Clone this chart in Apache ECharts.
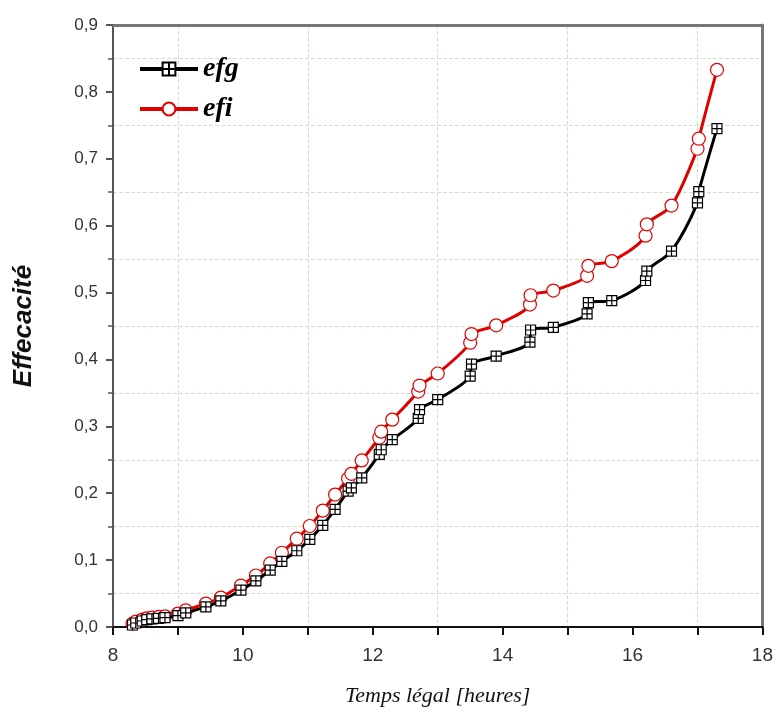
<!DOCTYPE html>
<html>
<head>
<meta charset="utf-8">
<script src="https://cdn.jsdelivr.net/npm/echarts@6/dist/echarts.min.js"></script>
<style>
  html, body { margin: 0; padding: 0; background: #fff; }
  #chart { width: 776px; height: 722px; }
</style>
</head>
<body>
<div id="chart"></div>
<script>
// heures (temps légal), same instants for both series
const temps = [8.3, 8.35, 8.45, 8.52, 8.6, 8.7, 8.8, 9.0, 9.12, 9.43, 9.66, 9.97, 10.2, 10.42, 10.6,
  10.83, 11.03, 11.23, 11.42, 11.62, 11.67, 11.83, 12.1, 12.13, 12.3, 12.7, 12.72, 13.0, 13.5, 13.52,
  13.9, 14.42, 14.43, 14.78, 15.3, 15.32, 15.68, 16.2, 16.22, 16.6, 17.0, 17.02, 17.3]

const efg = [0.003, 0.006, 0.009, 0.011, 0.012, 0.013, 0.014, 0.017, 0.021, 0.03, 0.039, 0.055, 0.069, 0.085, 0.098,
  0.114, 0.131, 0.152, 0.176, 0.203, 0.208, 0.223, 0.258, 0.265, 0.28, 0.312, 0.325, 0.34, 0.375, 0.393,
  0.405, 0.426, 0.444, 0.448, 0.468, 0.485, 0.488, 0.518, 0.532, 0.562, 0.634, 0.651, 0.745]

const efi = [0.005, 0.008, 0.011, 0.013, 0.014, 0.015, 0.016, 0.02, 0.025, 0.035, 0.044, 0.062, 0.077, 0.095, 0.111,
  0.132, 0.151, 0.174, 0.198, 0.222, 0.229, 0.249, 0.283, 0.292, 0.31, 0.352, 0.361, 0.379, 0.425, 0.438,
  0.451, 0.482, 0.496, 0.503, 0.525, 0.54, 0.547, 0.585, 0.602, 0.63, 0.715, 0.73, 0.833]

const chart = echarts.init(document.getElementById('chart'))

const pairs = ys => temps.map((t, i) => [t, ys[i]])
const gridColor = '#cfe3c8'

chart.setOption({
  backgroundColor: '#fff',
  animation: false,
  grid: { left: 113, right: 11, top: 25, bottom: 95 },
  legend: {
    orient: 'vertical',
    left: 133,
    top: 50,
    itemGap: 12,
    itemWidth: 58,
    itemHeight: 16,
    lineStyle: { width: 4 },
    textStyle: {
      fontFamily: 'Liberation Serif',
      fontStyle: 'italic',
      fontWeight: 'bold',
      fontSize: 28,
      color: '#000'
    },
    data: ['efg', 'efi']
  },
  xAxis: [
    {
      type: 'value',
      min: 8,
      max: 18,
      interval: 2,
      name: 'Temps légal [heures]',
      nameLocation: 'middle',
      nameGap: 58,
      nameTextStyle: {
        fontFamily: 'Liberation Serif',
        fontStyle: 'italic',
        fontSize: 22,
        color: '#111'
      },
      axisLine: { lineStyle: { color: '#111', width: 2 } },
      axisTick: { inside: false, length: 8, lineStyle: { color: '#111', width: 2 } },
      minorTick: { show: true, splitNumber: 2, length: 8, lineStyle: { color: '#111', width: 2 } },
      axisLabel: { margin: 19, fontFamily: 'Liberation Sans', fontSize: 19, color: '#333' },
      splitLine: { show: false },
      minorSplitLine: { show: true, lineStyle: { color: gridColor, type: 'dashed', width: 1 } }
    },
    {
      type: 'value',
      position: 'top',
      min: 8,
      max: 18,
      axisLine: { onZero: false, lineStyle: { color: '#777', width: 3 } },
      axisTick: { show: false },
      axisLabel: { show: false },
      splitLine: { show: false }
    }
  ],
  yAxis: [
    {
      type: 'value',
      min: 0,
      max: 0.9,
      interval: 0.1,
      name: 'Effecacité',
      nameLocation: 'middle',
      nameGap: 76,
      nameTextStyle: {
        fontFamily: 'Liberation Sans',
        fontStyle: 'italic',
        fontWeight: 'bold',
        fontSize: 26,
        color: '#111'
      },
      axisLine: { show: true, lineStyle: { color: '#555', width: 2 } },
      axisTick: { inside: false, length: 7, lineStyle: { color: '#555', width: 2 } },
      minorTick: { show: true, splitNumber: 2, length: 5, lineStyle: { color: '#555', width: 1.5 } },
      axisLabel: {
        margin: 15,
        fontFamily: 'Liberation Sans',
        fontSize: 17,
        color: '#333',
        formatter: v => v.toFixed(1).replace('.', ',')
      },
      splitLine: { show: false },
      minorSplitLine: { show: true, lineStyle: { color: gridColor, type: 'dashed', width: 1 } }
    },
    {
      type: 'value',
      position: 'right',
      min: 0,
      max: 0.9,
      axisLine: { show: true, onZero: false, lineStyle: { color: '#777', width: 3 } },
      axisTick: { show: false },
      axisLabel: { show: false },
      splitLine: { show: false }
    }
  ],
  series: [
    {
      name: 'efg',
      type: 'line',
      data: pairs(efg),
      smooth: 0.3,
      symbol: 'path://M0,0H10V10H0Z M5,0V10 M0,5H10',
      symbolSize: 10,
      lineStyle: { color: '#000', width: 3 },
      itemStyle: { color: '#fff', borderColor: '#000', borderWidth: 1.2 },
      z: 3
    },
    {
      name: 'efi',
      type: 'line',
      data: pairs(efi),
      smooth: 0.3,
      symbol: 'circle',
      symbolSize: 13,
      lineStyle: { color: '#e00000', width: 3 },
      itemStyle: { color: '#fff', borderColor: '#e00000', borderWidth: 1.2 },
      z: 2
    }
  ]
})
</script>
</body>
</html>
